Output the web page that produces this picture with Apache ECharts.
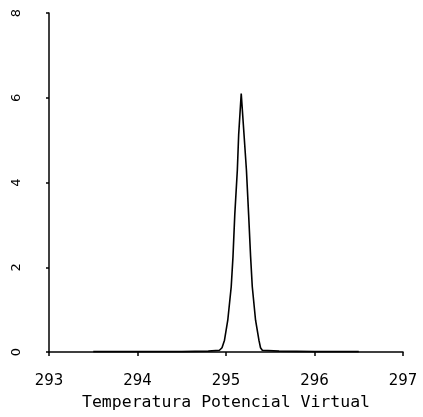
<!DOCTYPE html>
<html>
<head>
<meta charset="utf-8">
<script src="https://cdn.jsdelivr.net/npm/echarts@6/dist/echarts.min.js"></script>
<style>
html, body { margin: 0; padding: 0; background: #fff; }
#chart { width: 423px; height: 417px; }
</style>
</head>
<body>
<div id="chart"></div>
<script>
// valores
var temps = [293.5, 294.0, 294.5, 294.8, 294.926, 294.955, 294.983, 295.02, 295.059, 295.079,
             295.099, 295.128, 295.143, 295.172, 295.204, 295.231, 295.256, 295.278, 295.297,
             295.334, 295.372, 295.39, 295.41, 295.6, 296.0, 296.5];
var dens = [0.01, 0.01, 0.01, 0.02, 0.04, 0.1, 0.28, 0.75, 1.54, 2.25,
            3.23, 4.29, 5.12, 6.1, 5.12, 4.29, 3.23, 2.25, 1.54,
            0.75, 0.28, 0.1, 0.04, 0.02, 0.01, 0.01];
var xTicks = [293, 294, 295, 296, 297];
var yTicks = [0, 2, 4, 6, 8];

var chartDom = document.getElementById('chart');
var myChart = echarts.init(chartDom);

var pts = [];
for (var i = 0; i < temps.length; i++) {
    pts.push([temps[i], dens[i]]);
}

var option = {
    animation: false,
    backgroundColor: '#fff',
    grid: { left: 49, right: 20, top: 13, bottom: 65 },
    xAxis: {
        type: 'value',
        min: xTicks[0],
        max: xTicks[xTicks.length - 1],
        interval: 1,
        name: 'Temperatura Potencial Virtual',
        nameLocation: 'middle',
        nameGap: 37,
        nameTextStyle: { color: '#000', fontSize: 16.5, fontFamily: 'DejaVu Sans Mono' },
        axisLine: { onZero: false, lineStyle: { color: '#000', width: 1.5 } },
        axisTick: { show: true, inside: false, length: 4, lineStyle: { color: '#000', width: 1.5 } },
        axisLabel: { color: '#000', fontSize: 15, fontFamily: 'DejaVu Sans', margin: 22 },
        splitLine: { show: false }
    },
    yAxis: {
        type: 'value',
        min: yTicks[0],
        max: yTicks[yTicks.length - 1],
        interval: 2,
        axisLine: { show: true, lineStyle: { color: '#000', width: 1.5 } },
        axisTick: { show: true, length: 3, lineStyle: { color: '#000', width: 1.5 } },
        axisLabel: { color: '#000', fontSize: 13, fontFamily: 'DejaVu Sans', rotate: 90, margin: 26 },
        splitLine: { show: false }
    },
    series: [{
        type: 'line',
        data: pts,
        showSymbol: false,
        smooth: false,
        lineStyle: { color: '#000', width: 1.6 }
    }]
};
myChart.setOption(option);
</script>
</body>
</html>
